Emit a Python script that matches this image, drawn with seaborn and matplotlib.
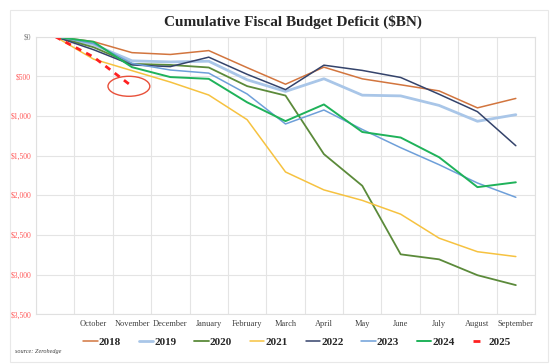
import numpy as np
import pandas as pd
import matplotlib
matplotlib.use('Agg')
import matplotlib.pyplot as plt
from matplotlib.patches import Ellipse, Rectangle
from matplotlib.lines import Line2D
import seaborn as sns

# Cumulative deficit by fiscal-year month ($BN), first point is the zero start
months = ['October', 'November', 'December', 'January', 'February', 'March',
          'April', 'May', 'June', 'July', 'August', 'September']
years = ['2018', '2019', '2020', '2021', '2022', '2023', '2024', '2025']

fy2018 = [0, 63, 202, 225, 176, 391, 600, 385, 532, 607, 684, 898, 779]
fy2019 = [0, 100, 305, 319, 310, 544, 691, 531, 738, 747, 867, 1067, 984]
fy2020 = [0, 134, 343, 357, 389, 624, 743, 1481, 1880, 2744, 2807, 3007, 3132]
fy2021 = [0, 284, 429, 573, 736, 1047, 1706, 1932, 2064, 2238, 2540, 2711, 2772]
fy2022 = [0, 165, 357, 378, 259, 475, 668, 360, 426, 515, 726, 946, 1375]
fy2023 = [0, 88, 337, 421, 460, 723, 1101, 925, 1170, 1400, 1614, 1845, 2025]
fy2024 = [0, 66, 385, 510, 532, 828, 1065, 855, 1202, 1272, 1520, 1897, 1836]
fy2025 = [0, 257, 626]

series = [fy2018, fy2019, fy2020, fy2021, fy2022, fy2023, fy2024, fy2025]
colors = ['#d2753e', '#a9c6e8', '#5b8a3a', '#f6c240', '#34436b', '#6e9fd9', '#1fb25a', '#ff2020']
widths = [1.1, 2.0, 1.3, 1.1, 1.1, 1.1, 1.4, 2.0]

sns.set_theme(style='whitegrid')
plt.rcParams['font.family'] = ['Liberation Serif', 'DejaVu Serif']

fig = plt.figure(figsize=(5.53, 3.64), dpi=100)
ax = fig.add_axes([0.0651, 0.1365, 0.9024, 0.7629])
ax.set_facecolor('white')

for year, vals, col, lw in zip(years, series, colors, widths):
    df = pd.DataFrame({'pos': np.arange(len(vals)), 'deficit': vals})
    sns.lineplot(data=df, x='pos', y='deficit', color=col, linewidth=lw,
                 label=year, ax=ax, legend=False)
    if year == '2025':
        ax.lines[-1].set_linestyle((0, (2.2, 2.0)))

# red circle around the latest reading
ax.add_patch(Ellipse((1.92, 626), 1.09, 252, fill=False, edgecolor='#e8503a', linewidth=1.0))

ax.set_xlim(-0.5, 12.5)
ax.set_ylim(3500, 0)
ax.set_xticks(np.arange(1, 13))
ax.set_xticklabels(months)
ax.set_xticks(np.arange(-0.5, 13, 1), minor=True)
ax.set_yticks(np.arange(0, 3501, 500))
ax.set_yticklabels(['$0'] + ['${:,}'.format(v) for v in range(500, 3501, 500)])
ax.grid(False, which='major', axis='x')
ax.grid(True, which='minor', axis='x', color='#e4e4e4', linewidth=0.8)
ax.grid(True, which='major', axis='y', color='#e4e4e4', linewidth=0.8)
ax.set_xlabel('')
ax.set_ylabel('')
ax.tick_params(axis='x', which='both', length=0, pad=4, labelsize=6, labelcolor='#404040')
ax.tick_params(axis='y', length=0, pad=3.5, labelsize=5.5, labelcolor='#ff5a5a')
ax.get_yticklabels()[0].set_color('#808080')
for s in ax.spines.values():
    s.set_color('#e0e0e0')
    s.set_linewidth(0.8)

fig.text(0.53, 0.94, 'Cumulative Fiscal Budget Deficit ($BN)', ha='center', va='center',
         fontsize=11, fontweight='bold', color='#262626')
fig.text(15 / 553, 1 - 352 / 364, 'source: Zerohedge', ha='left', va='center',
         fontsize=4.5, style='italic', color='#404040')

handles = list(ax.lines[:7])
handles.append(Line2D([], [], color=colors[7], linewidth=2.0, linestyle=(0, (2.5, 5))))
fig.legend(handles, years, loc='center', bbox_to_anchor=(0.537, 0.06), ncol=8,
           frameon=False, handlelength=1.3, handletextpad=0.1, columnspacing=1.6,
           prop={'weight': 'bold', 'size': 8})

fig.patches.append(Rectangle((10 / 553, 2 / 364), 538 / 553, 352 / 364, transform=fig.transFigure,
                             fill=False, edgecolor='#e8e8e8', linewidth=0.8))

fig.savefig('out.png', dpi=100, facecolor='white')
